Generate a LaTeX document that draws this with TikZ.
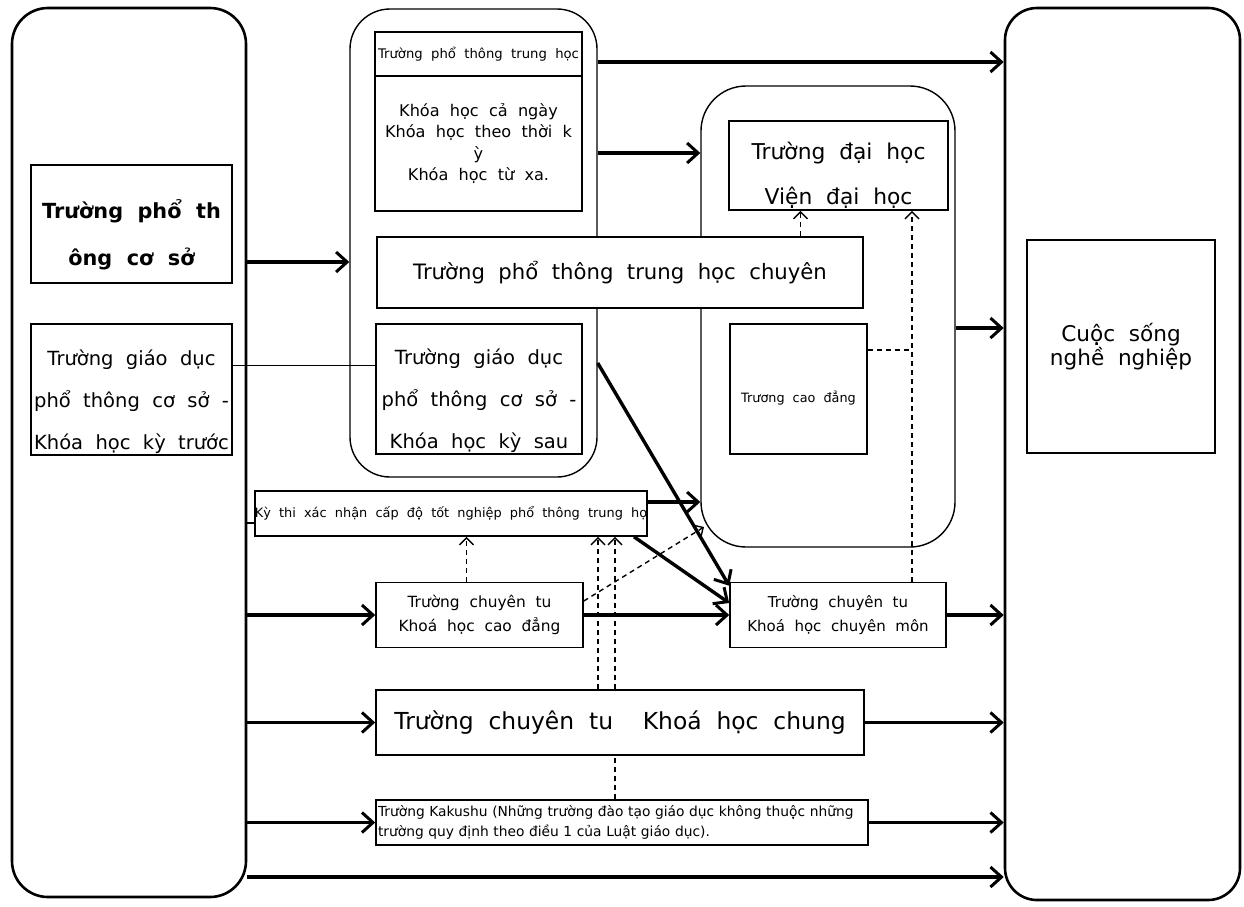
\documentclass[tikz,border=0pt]{standalone}
\usepackage{fontspec}
\setmainfont[WordSpace=2]{DejaVu Sans}
\usetikzlibrary{arrows.meta}
\newcommand{\tam}[2]{\fontsize{#1}{#2}\selectfont}

\begin{document}
\begin{tikzpicture}[
    x=1pt, y=-1pt,
    % Estilo para las cajas rectangulares
    caja/.style={
        draw=black,
        line width=1.6pt,
        fill=white,
        inner sep=0pt,
        align=center
    },
    % Texto suelto dentro de una caja
    texto/.style={
        inner sep=0pt,
        align=center
    },
    % Estilo para los bloques redondeados
    bloque/.style={
        draw=black,
        line width=1.4pt,
        rounded corners=40pt,
        inner sep=0pt
    },
    % Flecha gruesa (paso directo)
    flechaPaso/.style={
        -{Straight Barb[length=11pt,width=20pt,line width=3pt]},
        line width=3.4pt
    },
    % Linea punteada (vinculo)
    punteada/.style={
        line width=1.4pt,
        dash pattern=on 5pt off 4pt
    },
    % Flecha punteada (acceso)
    flechaPunteada/.style={
        punteada,
        -{Straight Barb[length=7pt,width=14pt,line width=1.4pt]}
    }
]
    \useasboundingbox (0,0) rectangle (1244,906);

    % --- BLOQUES GRANDES ---
    \node[bloque, line width=2.6pt, rounded corners=36pt, minimum width=234pt, minimum height=889pt] (izq) at (129,452.5) {};
    \node[bloque, line width=2.6pt, rounded corners=32pt, minimum width=235pt, minimum height=892pt] (vida) at (1122.5,454) {};
    \node[bloque, minimum width=247pt, minimum height=468pt] (medio) at (473.5,243) {};
    \node[bloque, rounded corners=45pt, minimum width=254pt, minimum height=461pt] (univ) at (828,316.5) {};

    % --- COLUMNA IZQUIERDA ---
    \node[caja, minimum width=201pt, minimum height=118pt] (pts) at (131.5,224) {};
    \node[texto, font=\bfseries\tam{20.8}{47}] (ptsT) at (131.5,235) {Trường phổ th\\ông cơ sở};
    \node[caja, minimum width=201pt, minimum height=131pt] (gdtr) at (131.5,389.5) {};
    \node[texto, font=\tam{19.5}{42}] (gdtrT) at (131.5,401.5) {Trường giáo dục\\phổ thông cơ sở -\\Khóa học kỳ trước};

    % --- BLOQUE SECUNDARIA ---
    \node[caja, minimum width=207pt, minimum height=44pt, font=\tam{13.2}{15}] (ptth) at (478.5,54) {Trường phổ thông trung học};
    \node[caja, minimum width=207pt, minimum height=135pt, font=\tam{16.1}{21.5}] (khoa) at (478.5,143.5) {Khóa học cả ngày\\Khóa học theo thời k\\ỳ\\Khóa học từ xa.};
    \node[caja, minimum width=206pt, minimum height=130pt] (gdsau) at (479,389) {};
    \node[texto, font=\tam{19.5}{42}] (gdsauT) at (479,401) {Trường giáo dục\\phổ thông cơ sở -\\Khóa học kỳ sau};

    % --- BLOQUE UNIVERSIDAD ---
    \node[caja, minimum width=219pt, minimum height=89pt] (dh) at (838.5,165.5) {};
    \node[texto, font=\tam{21.8}{45}] (dhT) at (838.5,175.5) {Trường đại học\\Viện đại học};
    \node[caja, minimum width=137pt, minimum height=130pt] (cd) at (798.5,389) {};
    \node[texto, font=\tam{12.8}{15}] (cdT) at (798.5,398) {Trương cao đẳng};
    \node[caja, minimum width=486pt, minimum height=71pt, font=\tam{21.2}{25}] (ptc) at (620,272.5) {Trường phổ thông trung học chuyên};

    % --- VIDA PROFESIONAL ---
    \node[caja, line width=1.2pt, minimum width=188pt, minimum height=213pt, font=\tam{21.6}{24}] (csn) at (1121,346.5) {Cuộc sống\\nghề nghiệp};

    % --- FILAS INFERIORES ---
    \node[caja, minimum width=386pt, minimum height=45pt, font=\tam{12.9}{15}] (kythi) at (451,513.5) {Kỳ thi xác nhận cấp độ tốt nghiệp phổ thông trung họ};
    \node[caja, minimum width=207pt, minimum height=65pt, font=\tam{15.4}{24}] (kcd) at (479.5,615) {Trường chuyên tu\\Khoá học cao đẳng};
    \node[caja, minimum width=216pt, minimum height=65pt, font=\tam{15}{24}] (kcm) at (838,615) {Trường chuyên tu\\Khoá học chuyên môn};
    \node[caja, minimum width=488pt, minimum height=65pt, font=\tam{23.4}{28}] (kchung) at (620,722.5) {Trường chuyên tu\ \ Khoá học chung};
    \node[caja, minimum width=492pt, minimum height=45pt, font=\tam{13.8}{20}, align=left, text width=488pt] (kak) at (622,822.5) {Trường Kakushu (Những trường đào tạo giáo dục không thuộc những\\trường quy định theo điều 1 của Luật giáo dục).};

    % --- FLECHAS GRUESAS ---
    \draw[flechaPaso] (medio.east |- 0,62) -- (vida.west |- 0,62);
    \draw[flechaPaso] (medio.east |- 0,153) -- (univ.west |- 0,153);
    \draw[flechaPaso] (izq.east |- 0,262) -- (medio.west |- 0,262);
    \draw[flechaPaso] (univ.east |- 0,328) -- (vida.west |- 0,328);
    \draw[flechaPaso] (kythi.east |- 0,502) -- (univ.west |- 0,502);
    \draw[flechaPaso] (medio.east |- 0,363) -- ([yshift=-4pt]kcm.north west);
    \draw[flechaPaso] ([xshift=-14pt]kythi.south east) -- ([yshift=12pt]kcm.west);
    \draw[flechaPaso] (kcd.east) -- (kcm.west);
    \draw[flechaPaso] (izq.east |- kcd.west) -- (kcd.west);
    \draw[flechaPaso] (kcm.east) -- (vida.west |- kcm.east);
    \draw[flechaPaso] (izq.east |- kchung.west) -- (kchung.west);
    \draw[flechaPaso] (kchung.east) -- (vida.west |- kchung.east);
    \draw[flechaPaso] (izq.east |- kak.west) -- (kak.west);
    \draw[flechaPaso] (kak.east) -- (vida.west |- kak.east);
    \draw[flechaPaso] (izq.east |- 0,877) -- (vida.west |- 0,877);

    % --- LINEAS SIMPLES ---
    \draw[line width=1pt] ([yshift=24.5pt]gdtr.east) -- ([yshift=24pt]gdsau.west);
    \draw[line width=1.6pt] (izq.east |- 0,523) -- (kythi.west |- 0,523);

    % --- LINEAS PUNTEADAS ---
    \coordinate (vcm) at ([xshift=74pt]kcm.north);
    \coordinate (vdh) at ([xshift=-38pt]dh.south);
    \coordinate (cdpunta) at (704,527);
    \draw[flechaPunteada] ([xshift=-13pt]kcd.north) -- ([xshift=-13pt]kcd.north |- kythi.south);
    \draw[flechaPunteada] ([xshift=-22pt]kchung.north) -- ([xshift=-22pt]kchung.north |- kythi.south);
    \draw[flechaPunteada] ([xshift=-5pt]kchung.north) -- ([xshift=-5pt]kchung.north |- kythi.south);
    \draw[punteada] ([xshift=-7pt]kak.north) -- ([xshift=-7pt]kak.north |- kchung.south);
    \draw[flechaPunteada] ([yshift=14pt]kcd.east) -- (cdpunta);
    \draw[flechaPunteada] (vcm) -- (vcm |- dh.south);
    \draw[punteada] ([yshift=39pt]cd.east) -- ([yshift=39pt]cd.east -| vcm);
    \draw[flechaPunteada] (vdh |- ptc.north) -- (vdh);

\end{tikzpicture}
\end{document}
